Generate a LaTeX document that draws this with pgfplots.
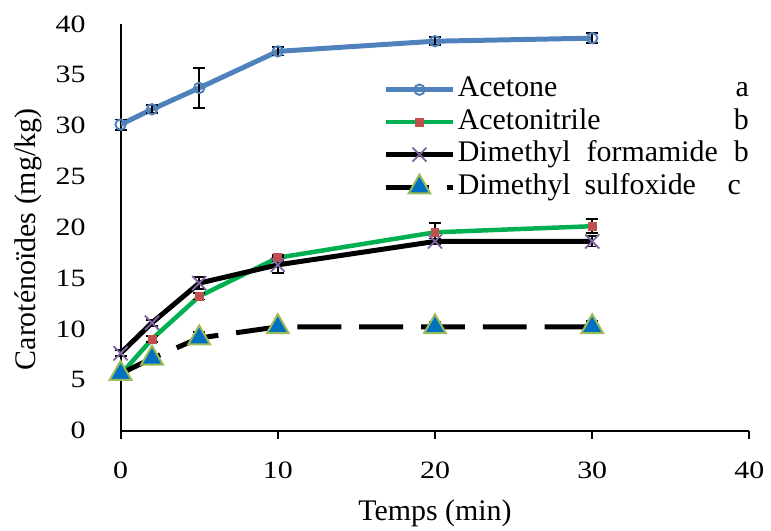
\documentclass[border=0pt]{standalone}
\usepackage{pgfplots}
\pgfplotsset{compat=1.18}
\usepackage{fontspec}
\setmainfont{Liberation Serif}
\newfontfamily\tickfont{Liberation Serif}[FakeStretch=1.2]
\definecolor{cblue}{HTML}{4F81BD}
\definecolor{cgreen}{HTML}{00B050}
\definecolor{cred}{HTML}{C0504D}
\definecolor{cpurple}{HTML}{8064A2}
\definecolor{ctri}{HTML}{0070C0}
\definecolor{ctriedge}{HTML}{9BBB59}
\begin{document}
\begin{tikzpicture}[font=\fontsize{15}{17.5}\selectfont]
\begin{axis}[
  at={(0,0)}, anchor=south west,
  scale only axis, width=315.5pt, height=204pt,
  xmin=0, xmax=40, ymin=0, ymax=40,
  xtick={0,10,20,30,40}, ytick={0,5,...,40},
  axis x line=bottom, axis y line=left,
  axis line style={-, black, line width=1pt},
  x tick style={black, line width=1pt}, tick align=outside, major tick length=4pt,
  y tick style={draw=none},
  /pgf/number format/assume math mode=true,
  tick label style={font=\tickfont\fontsize{12.5}{14}\selectfont},
  xticklabel style={yshift=-8pt},
  yticklabel style={xshift=-10pt},
  xlabel={Temps (min)}, ylabel={Caroténoïdes (mg/kg)},
  xlabel style={at={(axis description cs:0.5,-0.2034)}, anchor=center, inner sep=0pt},
  ylabel style={at={(axis description cs:-0.1474,0.47)}, anchor=center, inner sep=0pt},
  clip=false,
  legend cell align=left,
  legend style={draw=none, fill=none, inner sep=0pt, at={(axis description cs:0.4168,0.876)}, anchor=north west,
    nodes={inner sep=1pt, text height=10pt, text depth=3pt}, row sep=1.3pt},
  legend image code/.code={\draw[mark repeat=2,mark phase=2] plot coordinates {(0pt,0pt) (17pt,0pt) (34pt,0pt)};},
  error bars/y dir=both, error bars/y explicit,
  error bars/error bar style={black, line width=0.9pt, solid},
  error bars/error mark options={rotate=90, black, mark size=3pt, line width=0.9pt, solid},
]
\addplot[cblue, line width=2.5pt, mark=o, mark size=2.6pt, mark options={cblue, line width=1pt, solid}]
 coordinates {(0,30.1) +- (0,0.5) (2,31.6) +- (0,0.4) (5,33.7) +- (0,2.0) (10,37.3) +- (0,0.4) (20,38.3) +- (0,0.4) (30,38.6) +- (0,0.5)};
\addlegendentry{\makebox[146pt][l]{Acetone\hfill a}}
\addplot[cgreen, line width=2.25pt, mark=square*, mark size=2pt, mark options={cred, fill=cred, line width=0.5pt, solid}]
 coordinates {(0,5.5) +- (0,0.3) (2,9.0) +- (0,0.3) (5,13.2) +- (0,0.3) (10,17.0) +- (0,0.3) (20,19.5) +- (0,0.9) (30,20.1) +- (0,0.7)};
\addlegendentry{\makebox[146pt][l]{Acetonitrile\hfill b}}
\addplot[black, line width=2.5pt, mark=x, mark size=5pt, mark options={cpurple, line width=0.9pt, solid}]
 coordinates {(0,7.6) +- (0,0.3) (2,10.6) +- (0,0.3) (5,14.5) +- (0,0.6) (10,16.3) +- (0,0.8) (20,18.6) +- (0,0.3) (30,18.6) +- (0,0.5)};
\addlegendentry{\makebox[146pt][l]{Dimethyl\hspace{8pt}formamide\hfill b}}
\addplot[black, line width=2.5pt, dash pattern=on 22pt off 9pt, mark=triangle*, mark size=6.3pt, mark options={ctriedge, fill=ctri, line width=1pt, solid}]
 coordinates {(0,5.6) +- (0,0.2) (2,7.1) +- (0,0.2) (5,9.1) +- (0,0.6) (10,10.2) +- (0,0.3) (20,10.2) +- (0,0.5) (30,10.2) +- (0,0.6)};
\addlegendentry{\makebox[142pt][l]{Dimethyl\hspace{7pt}sulfoxide\hfill c}}
\end{axis}
\path (-60.5pt,-50pt) rectangle (325pt,216pt);
\end{tikzpicture}
\end{document}
